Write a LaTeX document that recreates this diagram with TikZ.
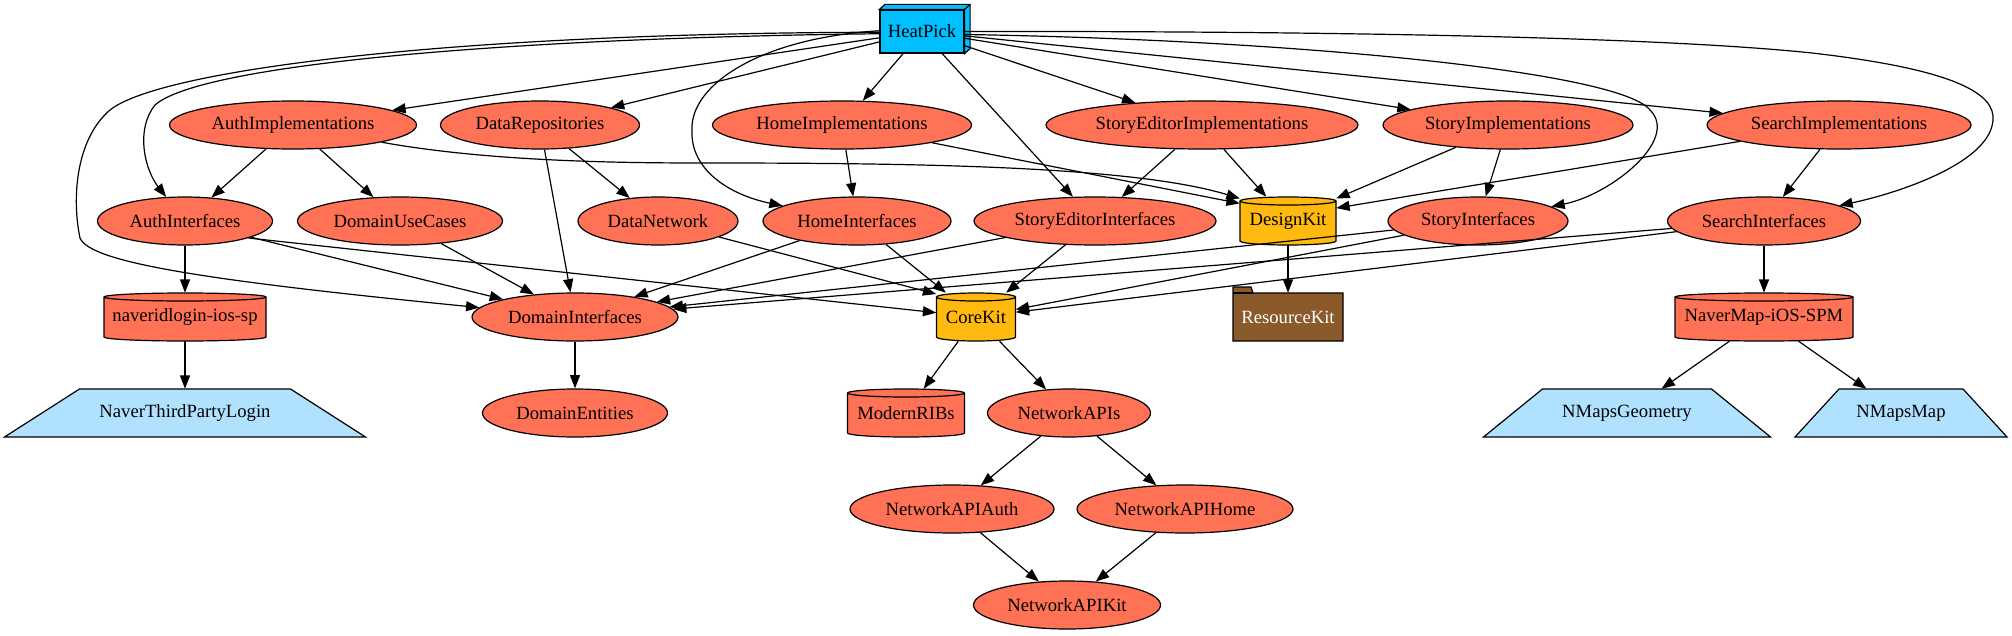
\documentclass[tikz,border=0pt]{standalone}
\usepackage{fontspec}
\setmainfont{Liberation Serif}
\usetikzlibrary{arrows.meta,shapes.geometric}
\definecolor{coralf}{HTML}{FF7256}
\definecolor{heatf}{HTML}{00BFFF}
\definecolor{goldf}{HTML}{FFB90F}
\definecolor{brownf}{HTML}{8B5A2B}
\definecolor{lbluef}{HTML}{B0E2FF}
\newcommand\cylnode[6]{%
  \filldraw[fill=#5, line width=0.9pt] ({#2-#4/2},{-#3+20}) arc[start angle=180,end angle=0,x radius=#4/2,y radius=4] -- ({#2+#4/2},{-#3-20}) arc[start angle=0,end angle=-180,x radius=#4/2,y radius=4] -- cycle;
  \draw[line width=0.9pt] ({#2-#4/2},{-#3+20}) arc[start angle=180,end angle=360,x radius=#4/2,y radius=4];
  \node[plainbox=#4] (#1) at (#2,-#3) {#6};
}
\newcommand\trapnode[6]{%
  \filldraw[fill=lbluef, line width=0.9pt] ({#2-#5/2},{-#3-24}) -- ({#2+#5/2},{-#3-24}) -- ({#2+#4/2},{-#3+24}) -- ({#2-#4/2},{-#3+24}) -- cycle;
  \node[plainbox=#4] (#1) at (#2,-#3) {#6};
}
\begin{document}
\begin{tikzpicture}[x=0.75pt,y=0.75pt,
  every node/.style={font=\fontsize{14}{16}\selectfont, inner sep=0pt},
  ell/.style={ellipse, draw, fill=coralf, line width=0.9pt, minimum height=36pt, minimum width=#1*0.75pt},
  plainbox/.style={rectangle, minimum height=36pt, minimum width=#1*0.75pt},
  conn/.style={-{Triangle[length=10pt,width=7.5pt]}, line width=0.9pt}]
\fill[white] (0,0) rectangle (2012,-635);
\useasboundingbox (0,0) rectangle (2012,-635);

% HeatPick (box3d)
\node[draw, fill=heatf, line width=0.9pt, minimum width=84*0.75pt, minimum height=43*0.75pt] (heatpick) at (922,-31.5) {HeatPick};
\filldraw[fill=heatf, line width=0.9pt] (heatpick.north west) -- ++(5.5,5) -- ([shift={(5.5,5)}]heatpick.north east) -- ([shift={(5.5,5)}]heatpick.south east) -- (heatpick.south east) -- (heatpick.north east) -- cycle;
\draw[line width=0.9pt] (heatpick.north east) -- ++(5.5,5);

% row 1
\node[ell=247] (authimpl) at (293,-125) {AuthImplementations};
\node[ell=199] (datarepo) at (540,-125) {DataRepositories};
\node[ell=259] (homeimpl) at (842,-125) {HomeImplementations};
\node[ell=312] (seimpl) at (1202,-125) {StoryEditorImplementations};
\node[ell=250] (storyimpl) at (1508,-125) {StoryImplementations};
\node[ell=264] (searchimpl) at (1839,-125) {SearchImplementations};
% row 2
\node[ell=175] (authif) at (185,-221) {AuthInterfaces};
\node[ell=205] (usecases) at (400,-221) {DomainUseCases};
\node[ell=160] (datanet) at (658,-221) {DataNetwork};
\node[ell=188] (homeif) at (857,-221) {HomeInterfaces};
\node[ell=242] (seif) at (1095,-221) {StoryEditorInterfaces};
\cylnode{designkit}{1288}{221}{96}{goldf}{DesignKit}
\node[ell=180] (storyif) at (1478,-221) {StoryInterfaces};
\node[ell=193] (searchif) at (1764,-221) {SearchInterfaces};
% row 3
\cylnode{naverid}{185}{317}{162}{coralf}{naveridlogin-ios-sp}
\node[ell=206] (domainif) at (575,-317) {DomainInterfaces};
\cylnode{corekit}{976}{317}{79}{goldf}{CoreKit}
\filldraw[fill=brownf, line width=0.9pt] (1233,-287) -- (1251,-287) -- (1253,-293) -- (1343,-293) -- (1343,-341) -- (1233,-341) -- cycle;
\draw[line width=0.9pt] (1233,-293) -- (1253,-293);
\node[plainbox=110, text=white] (resourcekit) at (1288,-317) {ResourceKit};
\cylnode{navermap}{1764}{317}{178}{coralf}{NaverMap-iOS-SPM}
% row 4
\trapnode{ntpl}{185}{413}{211}{361}{NaverThirdPartyLogin}
\node[ell=185] (entities) at (575,-413) {DomainEntities};
\cylnode{ribs}{906}{413}{117}{coralf}{ModernRIBs}
\node[ell=163] (netapis) at (1069,-413) {NetworkAPIs};
\trapnode{geom}{1627}{413}{169}{287}{NMapsGeometry}
\trapnode{nmap}{1901}{413}{124}{212}{NMapsMap}
% row 5, 6
\node[ell=204] (netauth) at (952,-509) {NetworkAPIAuth};
\node[ell=216] (nethome) at (1185,-509) {NetworkAPIHome};
\node[ell=187] (netkit) at (1067,-605) {NetworkAPIKit};

% edges from HeatPick
\draw[conn] (heatpick) -- (authimpl);
\draw[conn] (heatpick) -- (datarepo);
\draw[conn] (heatpick) -- (homeimpl);
\draw[conn] (heatpick) -- (seimpl);
\draw[conn] (heatpick) -- (storyimpl);
\draw[conn] (heatpick) -- (searchimpl);
\draw[conn] (heatpick) -- (seif);
\draw[conn] (heatpick.183) .. controls (500,-38) and (200,-65) .. (155,-105) .. controls (135,-130) and (145,-170) .. (authif);
\draw[conn] (heatpick.181) .. controls (450,-33) and (160,-70) .. (110,-110) .. controls (75,-140) and (72,-200) .. (80,-238) .. controls (90,-262) and (200,-280) .. (domainif);
\draw[conn] (heatpick.179) .. controls (760,-38) and (690,-85) .. (692,-130) .. controls (690,-170) and (730,-195) .. (homeif);
\draw[conn] (heatpick.-4) .. controls (1300,-40) and (1620,-72) .. (1650,-110) .. controls (1680,-140) and (1610,-195) .. (storyif);
\draw[conn] (heatpick.0) .. controls (1300,-31) and (1650,-36) .. (1812,-53) .. controls (1960,-70) and (1995,-95) .. (1993,-120) .. controls (1990,-165) and (1890,-195) .. (searchif);

% other edges
\draw[conn] (authimpl) -- (authif);
\draw[conn] (authimpl) -- (usecases);
\draw[conn] (authimpl.-11) .. controls (480,-160) and (600,-163) .. (700,-163) .. controls (900,-163) and (1130,-165) .. (designkit.155);
\draw[conn] (datarepo) -- (domainif);
\draw[conn] (datarepo) -- (datanet);
\draw[conn] (homeimpl) -- (homeif);
\draw[conn] (homeimpl) -- (designkit.160);
\draw[conn] (seimpl) -- (seif);
\draw[conn] (seimpl) -- (designkit);
\draw[conn] (storyimpl) -- (designkit.25);
\draw[conn] (storyimpl) -- (storyif);
\draw[conn] (searchimpl) -- (designkit.15);
\draw[conn] (searchimpl) -- (searchif);
\draw[conn] (authif) -- (naverid);
\draw[conn] (authif) -- (domainif);
\draw[conn] (authif.-15) -- (corekit);
\draw[conn] (usecases) -- (domainif);
\draw[conn] (datanet) -- (corekit.150);
\draw[conn] (homeif) -- (domainif);
\draw[conn] (homeif) -- (corekit);
\draw[conn] (seif) -- (domainif);
\draw[conn] (seif) -- (corekit);
\draw[conn] (designkit) -- (resourcekit);
\draw[conn] (storyif) -- (domainif);
\draw[conn] (storyif) -- (corekit);
\draw[conn] (searchif) -- (domainif);
\draw[conn] (searchif) -- (corekit);
\draw[conn] (searchif) -- (navermap);
\draw[conn] (naverid) -- (ntpl);
\draw[conn] (domainif) -- (entities);
\draw[conn] (corekit) -- (ribs);
\draw[conn] (corekit) -- (netapis);
\draw[conn] (netapis) -- (netauth);
\draw[conn] (netapis) -- (nethome);
\draw[conn] (netauth) -- (netkit);
\draw[conn] (nethome) -- (netkit);
\draw[conn] (navermap) -- (geom);
\draw[conn] (navermap) -- (nmap);
\end{tikzpicture}
\end{document}
